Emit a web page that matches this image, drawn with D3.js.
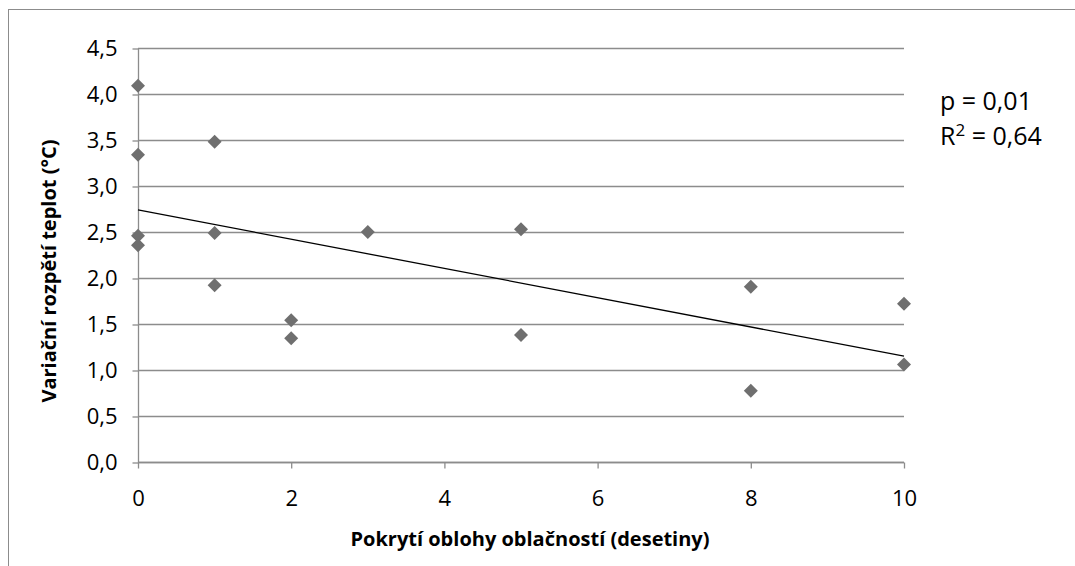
<!DOCTYPE html>
<html>
  <head>
    <meta charset="utf-8" />
    <title>oblacnost</title>
    <script src="https://cdn.jsdelivr.net/npm/d3@7"></script>
    <style type="text/css">
      body { margin: 0; background: #fff; }
      text { font-family: "Open Sans", Lato, sans-serif; fill: #000; }
    </style>
  </head>
  <body>
    <svg id="chart" width="1075" height="566"></svg>
    <script type="text/javascript">
      // cloud cover (tenths) vs. daily temperature range
      var cloud = [0, 0, 0, 0, 1, 1, 1, 2, 2, 3, 5, 5, 8, 8, 10, 10];
      var range = [4.09, 3.34, 2.46, 2.355, 3.48, 2.49, 1.92, 1.54, 1.345, 2.5, 2.53, 1.38, 1.905, 0.775, 1.72, 1.06];
      var trendX = [0, 10];
      var trendY = [2.74, 1.15];
      var yTicks = [0, 0.5, 1, 1.5, 2, 2.5, 3, 3.5, 4, 4.5];
      var xTicks = [0, 2, 4, 6, 8, 10];
      var pText = 'p = 0,01';
      var r2Text = ' = 0,64';

      var svg = d3.select('#chart');
      var fmt = (d) => d3.format('.1f')(d).replace('.', ',');

      // outer frame (cut off by the picture on the right and bottom)
      svg.append('rect')
        .attr('x', 8.5).attr('y', 9.5)
        .attr('width', 1200).attr('height', 700)
        .attr('fill', 'none').attr('stroke', '#8c8c8c').attr('stroke-width', 1);

      var x = d3.scaleLinear().domain([0, 10]).range([138, 904]);
      var y = d3.scaleLinear().domain([0, 4.5]).range([462, 48]);

      // gridlines
      svg.append('g').selectAll('line').data(yTicks).enter().append('line')
        .attr('x1', x(0)).attr('x2', x(10))
        .attr('y1', (d) => Math.round(y(d)) + 0.5).attr('y2', (d) => Math.round(y(d)) + 0.5)
        .attr('stroke', '#8c8c8c').attr('stroke-width', 1.3);

      var gy = svg.append('g').attr('transform', 'translate(' + (x(0) + 0.5) + ',0.5)')
        .call(d3.axisLeft(y).tickValues(yTicks).tickFormat(fmt).tickSize(6).tickPadding(15));
      var gx = svg.append('g').attr('transform', 'translate(0,' + (y(0) + 0.5) + ')')
        .call(d3.axisBottom(x).tickValues(xTicks).tickFormat(d3.format('d')).tickSize(6).tickPadding(22));
      [gy, gx].forEach(function (g) {
        g.selectAll('path, line').attr('stroke', '#8c8c8c').attr('stroke-width', 1.3);
        g.selectAll('text').style('font-size', '22px').attr('fill', '#000');
      });
      gy.select('.domain').attr('d', 'M0,' + y(4.5) + 'V' + y(0));
      gx.select('.domain').attr('d', 'M' + x(0) + ',0H' + x(10));

      // markers
      var pts = cloud.map((c, i) => [c, range[i]]);
      var r = 7;
      svg.append('g').selectAll('path').data(pts).enter().append('path')
        .attr('d', function (d) {
          var cx = x(d[0]), cy = y(d[1]);
          return 'M' + cx + ',' + (cy - r) + 'L' + (cx + r) + ',' + cy + 'L' + cx + ',' + (cy + r) + 'L' + (cx - r) + ',' + cy + 'Z';
        })
        .attr('fill', '#6f6f6f');

      // trend line
      svg.append('line')
        .attr('x1', x(trendX[0])).attr('y1', y(trendY[0]))
        .attr('x2', x(trendX[1])).attr('y2', y(trendY[1]))
        .attr('stroke', '#000').attr('stroke-width', 1.3);

      // axis titles
      svg.append('text')
        .attr('x', 530).attr('y', 546)
        .attr('text-anchor', 'middle')
        .style('font-size', '20px').style('font-weight', 'bold')
        .text('Pokrytí oblohy oblačností (desetiny)');
      svg.append('text')
        .attr('transform', 'translate(56,271) rotate(-90)')
        .attr('text-anchor', 'middle')
        .style('font-size', '20px').style('font-weight', 'bold')
        .text('Variační rozpětí teplot (°C)');

      // stats
      var st = svg.append('text').attr('x', 940).style('font-size', '25px');
      st.append('tspan').attr('x', 940).attr('y', 110).text(pText);
      st.append('tspan').attr('x', 940).attr('y', 145).text('R');
      st.append('tspan').attr('dy', -9).style('font-size', '17px').text('2');
      st.append('tspan').attr('dy', 9).text(r2Text);
    </script>
  </body>
</html>
